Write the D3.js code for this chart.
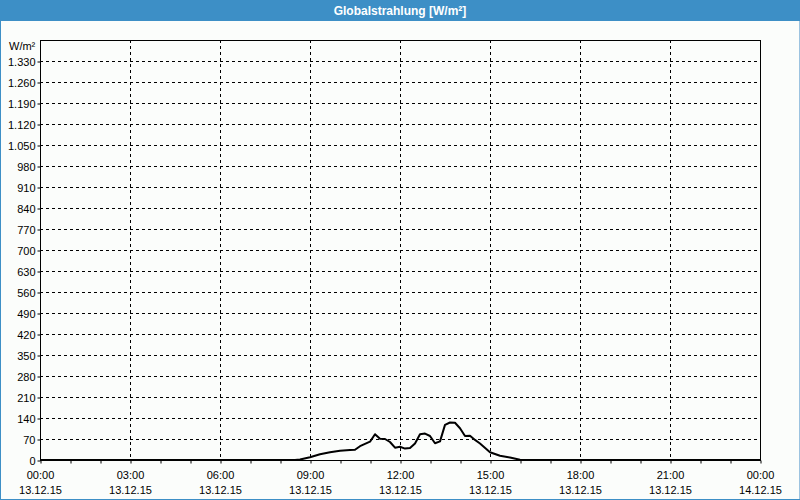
<!DOCTYPE html>
<html><head><meta charset="utf-8">
<script src="https://cdn.jsdelivr.net/npm/d3@7"></script>
<style>
html,body{margin:0;padding:0;background:#fbfdfb;}
svg text{font-family:"Liberation Sans",Arial,sans-serif;}
</style>
</head><body>
<script>
const title = "Globalstrahlung [W/m²]";
const unitLabel = "W/m²";
const times = ["00:00","08:30","08:40","09:00","09:20","09:40","10:00","10:20","10:30","10:40","11:00","11:10","11:20","11:30","11:40","11:50","12:00","12:10","12:20","12:30","12:40","12:50","13:00","13:10","13:20","13:30","13:40","13:50","14:00","14:10","14:20","14:30","14:40","15:00","15:20","15:40","16:00","16:10","24:00"];
const values = [0,0,2,9,19,26,31,33,34,46,61,86,71,70,60,41,44,38,40,55,86,88,80,56,62,117,125,124,106,80,81,67,55,26,14,8,1,0,0];
const yTicks = [0,70,140,210,280,350,420,490,560,630,700,770,840,910,980,1050,1120,1190,1260,1330];
const yMax = 1400;
const xTickHours = [0,3,6,9,12,15,18,21,24];
const xTimeLabels = ["00:00","03:00","06:00","09:00","12:00","15:00","18:00","21:00","00:00"];
const xDateLabels = ["13.12.15","13.12.15","13.12.15","13.12.15","13.12.15","13.12.15","13.12.15","13.12.15","14.12.15"];

const W = 800, H = 500;
const m = {l:40, r:40, t:40, b:40};
const svg = d3.select("body").append("svg").attr("width",W).attr("height",H).style("display","block");
svg.append("rect").attr("width",W).attr("height",H).attr("fill","#fbfdfb");
// title bar
svg.append("rect").attr("x",0).attr("y",0).attr("width",W).attr("height",21).attr("fill","#3d8fc6");
svg.append("text").attr("x",W/2).attr("y",15).attr("text-anchor","middle")
  .attr("fill","#fff").attr("font-weight","bold").attr("font-size","12px").text(title);
// outer border
svg.append("line").attr("x1",0.5).attr("x2",0.5).attr("y1",21).attr("y2",H).attr("stroke","#3d8fc6");
svg.append("line").attr("x1",W-0.5).attr("x2",W-0.5).attr("y1",21).attr("y2",H).attr("stroke","#9cc3e0");
svg.append("line").attr("x1",0).attr("x2",W).attr("y1",H-0.5).attr("y2",H-0.5).attr("stroke","#3d8fc6");

const toH = s => { const [h,mm] = s.split(":").map(Number); return h + mm/60; };
const x = d3.scaleLinear().domain([0,24]).range([m.l, W-m.r]);
const y = d3.scaleLinear().domain([0,yMax]).range([H-m.b, m.t]);

// horizontal gridlines
svg.append("g").selectAll("line").data(yTicks.filter(v=>v>0)).join("line")
  .attr("x1",m.l).attr("x2",W-m.r)
  .attr("y1",d=>Math.round(y(d))+0.5).attr("y2",d=>Math.round(y(d))+0.5)
  .attr("stroke","#000").attr("stroke-dasharray","3,3");
// vertical gridlines
svg.append("g").selectAll("line").data(xTickHours.filter(h=>h>0&&h<24)).join("line")
  .attr("x1",d=>Math.round(x(d))+0.5).attr("x2",d=>Math.round(x(d))+0.5)
  .attr("y1",m.t).attr("y2",H-m.b)
  .attr("stroke","#000").attr("stroke-dasharray","3,3");

// y axis
const yAxis = d3.axisLeft(y).tickValues(yTicks).tickSize(3).tickSizeOuter(0)
  .tickFormat(d => d3.format(",")(d).replace(/,/g,"."));
const gy = svg.append("g").attr("transform",`translate(${m.l+0.5},0.5)`).call(yAxis);
gy.select(".domain").remove();
gy.selectAll("text").attr("font-size","11px").attr("fill","#000").attr("x",-5).attr("font-family","Liberation Sans, Arial, sans-serif");
gy.selectAll("line").attr("stroke","#000");

// x axis minor ticks every hour
const xAxis = d3.axisBottom(x).tickValues(d3.range(0,25)).tickSize(3).tickFormat("");
const gx = svg.append("g").attr("transform",`translate(0.5,${H-m.b+0.5})`).call(xAxis);
gx.select(".domain").remove();
gx.selectAll("line").attr("stroke","#000");

// x labels
const xl = svg.append("g").attr("font-size","11px").attr("text-anchor","middle").attr("fill","#000");
xl.selectAll("text.t").data(xTickHours).join("text").attr("class","t")
  .attr("x",d=>x(d)+0.5).attr("y",479).text((d,i)=>xTimeLabels[i]);
xl.selectAll("text.d").data(xTickHours).join("text").attr("class","d")
  .attr("x",d=>x(d)+0.5).attr("y",494).text((d,i)=>xDateLabels[i]);

svg.append("text").attr("x",9).attr("y",50).attr("font-size","11px").attr("fill","#000").text(unitLabel);

// frame
svg.append("rect").attr("x",m.l+0.5).attr("y",m.t+0.5).attr("width",W-m.l-m.r).attr("height",H-m.t-m.b)
  .attr("fill","none").attr("stroke","#000");

// data line
const data = times.map((t,i)=>({h:toH(t), v:values[i]}));
svg.append("path").datum(data)
  .attr("d", d3.line().x(d=>x(d.h)).y(d=>y(d.v)))
  .attr("fill","none").attr("stroke","#000").attr("stroke-width",2).attr("stroke-linejoin","round");
</script>
</body></html>
